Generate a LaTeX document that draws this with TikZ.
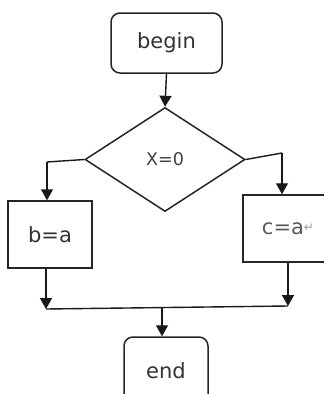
\documentclass[tikz,border=0pt]{standalone}
\usepackage{fontspec}
\setmainfont{DejaVu Sans}
\usetikzlibrary{shapes.geometric,arrows.meta}
\tikzset{
  x=1pt, y=1pt,
  flow/.style={line width=1.4pt, draw=black!90},
  arr/.style={flow, -{Triangle[length=11pt,width=12pt]}},
  term/.style={draw=black!85, line width=1.5pt, rounded corners=9pt, inner sep=0pt,
    font=\fontsize{21}{23}\selectfont, text=black!80},
  proc/.style={draw=black!85, line width=1.5pt, inner sep=0pt,
    font=\fontsize{21}{23}\selectfont, text=black!80},
  decide/.style={draw=black!85, line width=1.5pt, diamond, inner sep=0pt,
    font=\fontsize{17.5}{19}\selectfont, text=black!75}
}
\begin{document}
\begin{tikzpicture}
  \clip (0,0) rectangle (324,-394);
  \fill[white] (0,0) rectangle (324,-394);

  % nodes
  \node[term, minimum width=111pt, minimum height=60pt] (begin) at (166.5,-43) {begin};
  \node[decide, minimum width=160pt, minimum height=104pt] (test) at (165,-159.5) {X=0};
  \node[proc, minimum width=84pt, minimum height=67pt] (assignb) at (50,-234.5) {b=a};
  \node[proc, minimum width=90pt, minimum height=67pt, text=black!65] (assignc) at (288,-228.5)
    {c=a\raisebox{3pt}{\fontsize{12}{12}\selectfont\color{black!40}↵}};
  \node[term, minimum width=84pt, minimum height=68pt] (end) at (166,-371) {end};

  % corner and junction points
  \coordinate (lturn) at (47,-162);
  \coordinate (rturn) at (282,-153);
  \coordinate (ljoin) at (46,-309);
  \coordinate (rjoin) at (288,-306);
  \coordinate (mjoin) at (162,-307.5);

  % connectors
  \draw[arr] (begin.south) -- (test.north);
  \draw[flow] (test.west) -- (lturn);
  \draw[arr] (lturn) -- (lturn |- assignb.north);
  \draw[flow] (test.east) -- (rturn);
  \draw[arr] (rturn) -- (rturn |- assignc.north);
  \draw[arr] (assignb.south -| ljoin) -- (ljoin);
  \draw[arr] (assignc.south -| rjoin) -- (rjoin);
  \draw[flow] (ljoin) -- (rjoin);
  \draw[arr] (mjoin) -- (mjoin |- end.north);
\end{tikzpicture}
\end{document}
